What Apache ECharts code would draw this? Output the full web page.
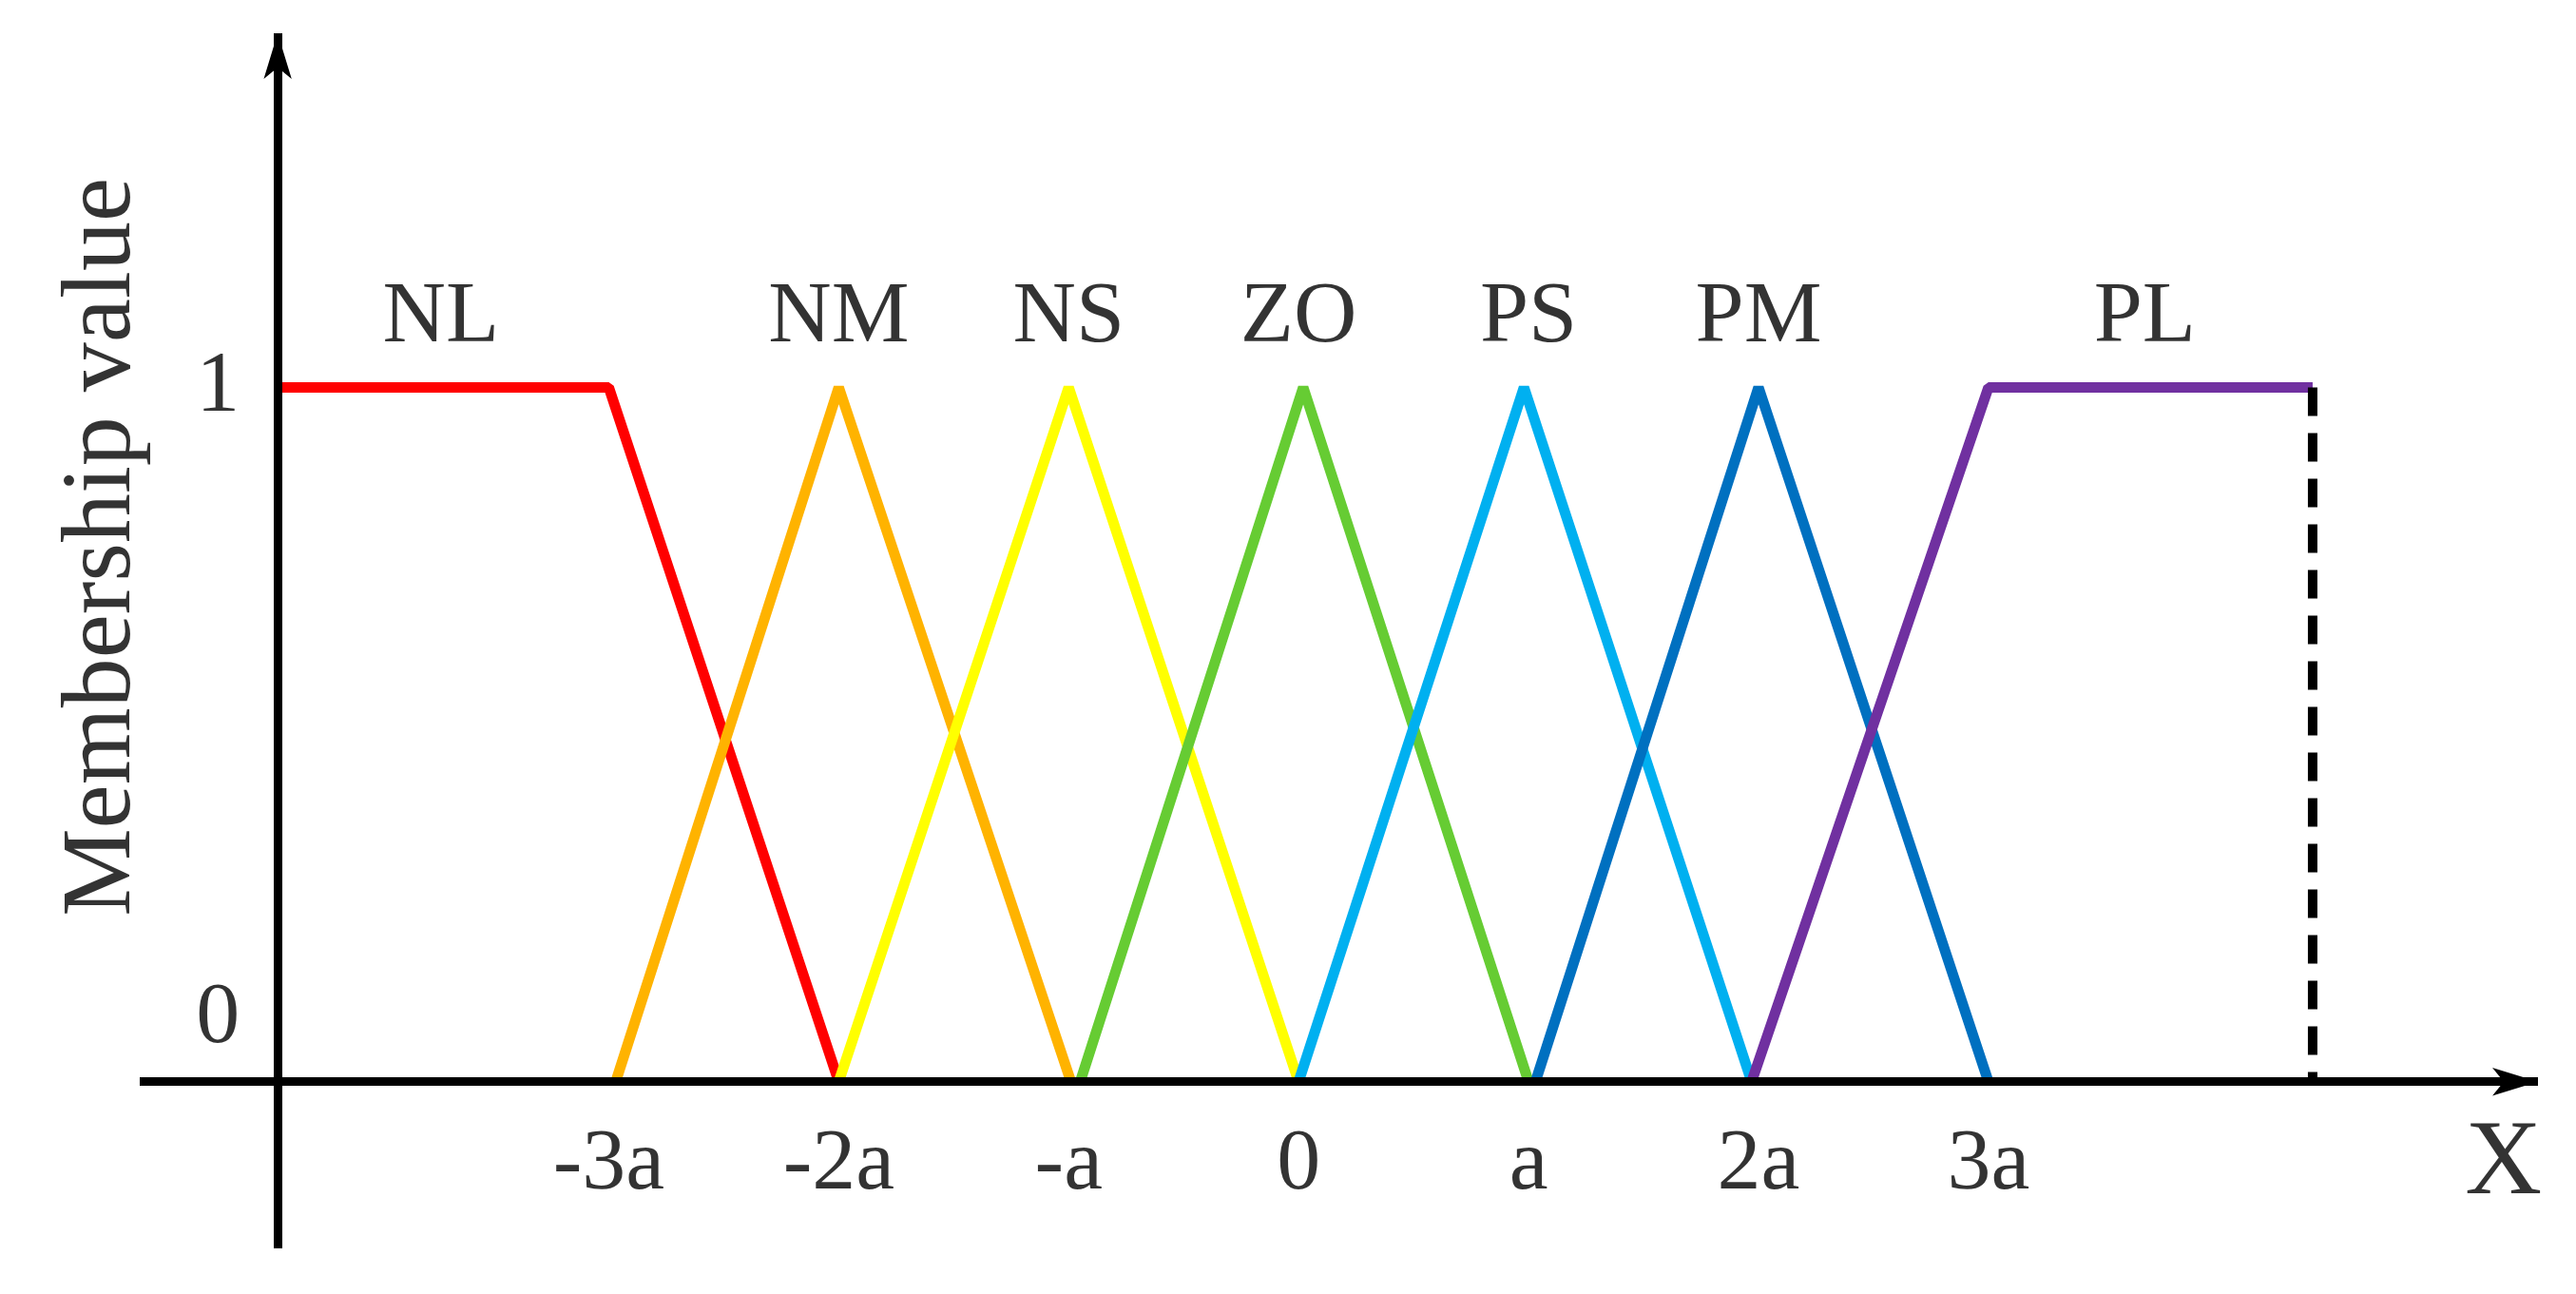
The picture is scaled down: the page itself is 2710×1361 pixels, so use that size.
<!DOCTYPE html>
<html><head><meta charset="utf-8">
<script src="https://cdn.jsdelivr.net/npm/echarts@6/dist/echarts.min.js"></script>
<style>html,body{margin:0;background:#fff}#c{width:2710px;height:1361px}</style>
</head><body><div id="c"></div>
<script>
const seriesNames=['NL','NM','NS','ZO','PS','PM','PL'];
const colors=['#ff0000','#ffb300','#ffff00','#66cc33','#00b0f0','#0070c0','#7030a0'];
const seriesData=[
 [[-4.44,1],[-3,1],[-2,0]],
 [[-2.97,0],[-2,1],[-0.99,0]],
 [[-2,0],[-1,1],[0,0]],
 [[-0.95,0],[0.02,1],[1.0,0]],
 [[0,0],[0.98,1],[1.97,0]],
 [[1.03,0],[2,1],[3,0]],
 [[1.97,0],[3,1],[4.41,1]]
];
const dashedEdge=[[4.41,1],[4.41,0]];
const nameLabelPos=[[-3.73,1.1],[-2,1.1],[-1,1.1],[0,1.1],[1,1.1],[2,1.1],[3.68,1.1]];
const xTickPos=[-3,-2,-1,0,1,2,3];
const xTickLabels=['-3a','-2a','-a','0','a','2a','3a'];
const yTickPos=[1,0.09];
const yTickLabels=['1','0'];
const FONT='Liberation Serif';
const X0=-4.44;
const series=[];
seriesData.forEach((d,i)=>series.push({type:'line',name:seriesNames[i],data:d,symbol:'none',
 lineStyle:{color:colors[i],width:11},z:3}));
series.push({type:'line',data:dashedEdge,symbol:'none',lineStyle:{color:'#000',width:10,type:[30,18]},z:3,
 markLine:{silent:true,symbol:['none','arrow'],symbolSize:[22,48],lineStyle:{color:'#000',width:9,type:'solid'},label:{show:false},
 data:[[{coord:[-5.04,0]},{coord:[5.39,0]}],[{coord:[X0,-0.24]},{coord:[X0,1.51]}]]}});
const lbl=(fs,extra)=>Object.assign({show:true,position:'inside',formatter:p=>p.name,fontFamily:FONT,fontSize:fs,color:'#000'},extra||{});
series.push({type:'scatter',symbolSize:0,clip:false,data:nameLabelPos.map((p,i)=>({value:p,name:seriesNames[i]})),label:lbl(92),z:5});
series.push({type:'scatter',symbolSize:0,clip:false,data:xTickPos.map((x,i)=>({value:[x,-0.12],name:xTickLabels[i]})),label:lbl(92),z:5});
series.push({type:'scatter',symbolSize:0,clip:false,data:yTickPos.map((y,i)=>({value:[-4.7,y],name:yTickLabels[i]})),label:lbl(92),z:5});
series.push({type:'scatter',symbolSize:0,clip:false,data:[{value:[5.24,-0.12]  ,name:'X'}],label:lbl(112),z:5});
series.push({type:'scatter',symbolSize:0,clip:false,data:[{value:[-5.2,0.77],name:'Membership value'}],label:lbl(104,{rotate:90}),z:5});
const chart=echarts.init(document.getElementById('c'));
chart.setOption({animation:false,backgroundColor:'#fff',
 grid:{left:147,right:40,top:35,bottom:48},
 xAxis:{type:'value',min:-5.04,max:5.39,show:false},
 yAxis:{type:'value',min:-0.24,max:1.51,show:false},
 series});
</script></body></html>
